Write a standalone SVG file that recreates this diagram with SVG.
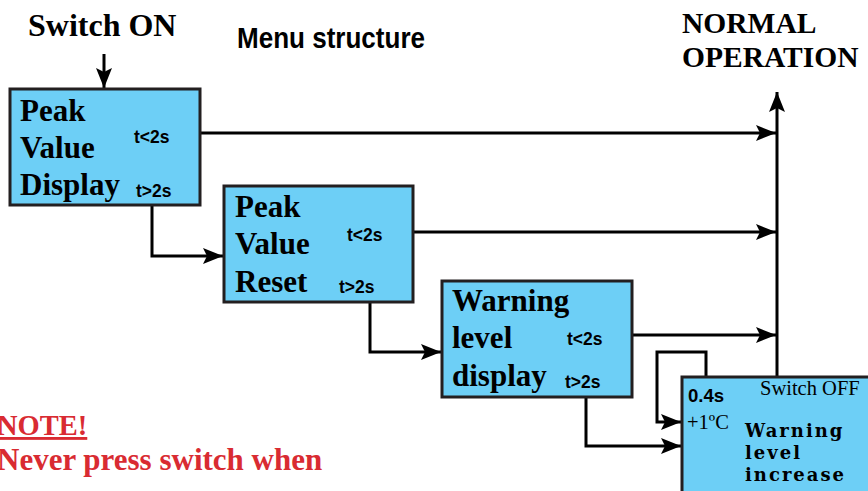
<svg xmlns="http://www.w3.org/2000/svg" width="868" height="491" viewBox="0 0 868 491">
<style>
.box{fill:#6dcff6;stroke:#231f20;stroke-width:3}
.big{font-family:"Liberation Serif",serif;font-weight:bold;font-size:31px;fill:#000}
.t{font-family:"Liberation Sans",sans-serif;font-weight:bold;font-size:17.5px;fill:#000}
.head{font-family:"Liberation Serif",serif;font-weight:bold;font-size:32px;fill:#000}
.ln{fill:none;stroke:#000;stroke-width:3}
.red{font-family:"Liberation Serif",serif;font-weight:bold;font-size:31px;fill:#d92b32}
.w{font-family:"DejaVu Serif",serif;font-weight:bold;font-size:18px;letter-spacing:2px;fill:#000}
</style>
<defs>
<marker id="a" viewBox="0 0 10 8" refX="10" refY="4" markerWidth="22" markerHeight="16" markerUnits="userSpaceOnUse" orient="auto"><path d="M0,0 L10,4 L0,8 L2,4 Z" fill="#000"/></marker>
</defs>
<rect width="868" height="491" fill="#fff"/>
<text class="head" x="28" y="36">Switch ON</text>
<text x="237" y="48" font-family="Liberation Sans, sans-serif" font-weight="bold" font-size="29" textLength="188" lengthAdjust="spacingAndGlyphs" fill="#000">Menu structure</text>
<text class="head" x="682" y="33" style="font-size:29.5px">NORMAL</text>
<text class="head" x="682" y="67" style="font-size:29.5px">OPERATION</text>

<g id="connectors">
<path class="ln" d="M104,54 V88" marker-end="url(#a)"/>
<path class="ln" d="M777,377 V92" marker-end="url(#a)"/>
<path class="ln" d="M200,133 H776" marker-end="url(#a)"/>
<path class="ln" d="M413,232 H776" marker-end="url(#a)"/>
<path class="ln" d="M632,335 H776" marker-end="url(#a)"/>
<path class="ln" d="M152,205 V256 H223" marker-end="url(#a)"/>
<path class="ln" d="M370,302 V352 H441" marker-end="url(#a)"/>
<path class="ln" d="M586,397 V446 H681" marker-end="url(#a)"/>
<path class="ln" d="M706,377 V352 H657 V422 H681" marker-end="url(#a)"/>
</g>

<g id="node1">
<rect class="box" x="10" y="89" width="190" height="116"/>
<text class="big" x="20" y="121">Peak</text>
<text class="big" x="20" y="158">Value</text>
<text class="big" x="20" y="195">Display</text>
<text class="t" x="134" y="143">t&lt;2s</text>
<text class="t" x="136" y="197">t&gt;2s</text>
</g>
<g id="node2">
<rect class="box" x="224" y="186" width="189" height="116"/>
<text class="big" x="235" y="217">Peak</text>
<text class="big" x="235" y="254">Value</text>
<text class="big" x="235" y="292">Reset</text>
<text class="t" x="347" y="241">t&lt;2s</text>
<text class="t" x="339" y="293">t&gt;2s</text>
</g>
<g id="node3">
<rect class="box" x="442" y="281" width="190" height="116"/>
<text class="big" x="452" y="311">Warning</text>
<text class="big" x="452" y="348">level</text>
<text class="big" x="452" y="386">display</text>
<text class="t" x="567" y="345">t&lt;2s</text>
<text class="t" x="565" y="388">t&gt;2s</text>
</g>
<g id="node4">
<rect class="box" x="682" y="377" width="200" height="130"/>
<text class="t" x="688" y="402" style="font-size:18.6px">0.4s</text>
<text x="760" y="395" font-family="Liberation Serif, serif" font-size="20.5" fill="#000">Switch OFF</text>
<text x="687" y="429" font-family="Liberation Serif, serif" font-size="20.5" fill="#000">+1ºC</text>
<text class="w" x="745" y="437">Warning</text>
<text class="w" x="745" y="459">level</text>
<text class="w" x="745" y="481">increase</text>
</g>

<text class="red" x="-3" y="435" style="font-size:28.5px" text-decoration="underline">NOTE!</text>
<text class="red" x="-3" y="470">Never press switch when</text>
</svg>
